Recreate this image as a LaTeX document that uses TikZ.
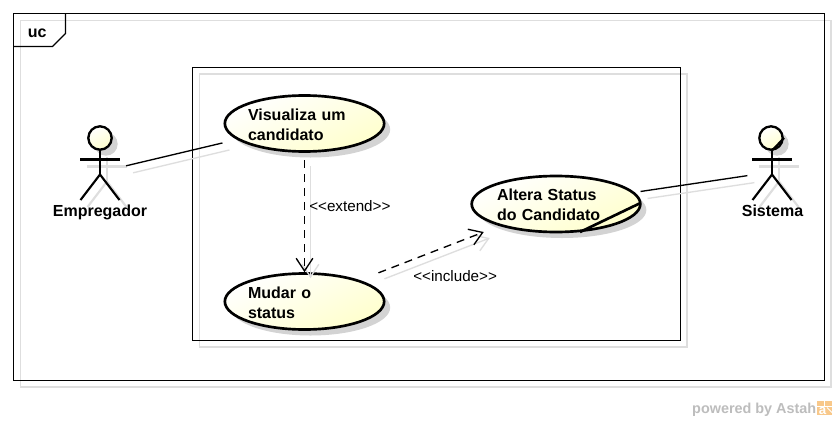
\documentclass[tikz,border=0pt]{standalone}
\usepackage{fontspec}
\setmainfont{Liberation Sans}
\usetikzlibrary{shapes.geometric,shadows,arrows.meta}
\definecolor{usefill}{HTML}{FFFFCC}
\definecolor{shadowgray}{HTML}{DEDEDE}
\definecolor{markgray}{HTML}{BDBDBD}
\definecolor{markorange}{HTML}{F8C88A}
\tikzset{
  px/.style={x=0.75pt,y=-0.75pt},
  framebox/.style={draw=black,line width=1pt},
  frameshadow/.style={draw=shadowgray,line width=1pt},
  usecase/.style={ellipse,draw=black,line width=2pt,inner xsep=-1.5pt,inner ysep=-1.5pt,
    minimum height=42pt,left color=white,right color=usefill,shading angle=25,
    general shadow={shadow xshift=4.5pt,shadow yshift=-4.5pt,fill=shadowgray!95!black},
    font=\bfseries\fontsize{12}{15}\selectfont,align=left,text height=10.3pt},
  smalluse/.style={usecase,minimum width=119.5pt,text width=84.75pt},
  biguse/.style={usecase,minimum width=126.5pt,text width=88.5pt},
  actorbox/.style={rectangle,inner sep=0pt,minimum width=30pt,minimum height=69pt},
  actorlabel/.style={anchor=base,inner sep=0pt,font=\bfseries\fontsize{12}{14.25}\selectfont},
  stereo/.style={anchor=base west,inner sep=0pt,font=\fontsize{11.4}{13}\selectfont},
  stick/.style={draw=black,line width=1.6pt},
  stickshadow/.style={draw=shadowgray,line width=1.6pt},
  head/.style={circle,draw=black,line width=1.75pt,inner sep=0pt,minimum size=17.5pt,
    left color=white,right color=usefill,shading angle=25,
    general shadow={shadow xshift=4.5pt,shadow yshift=-4.5pt,fill=shadowgray!95!black}},
  assoc/.style={draw=black,line width=1pt},
  assocshadow/.style={draw=shadowgray,line width=1pt,transform canvas={xshift=5.25pt,yshift=-5.25pt}},
  dep/.style={draw=black,line width=1pt,dash pattern=on 6pt off 4.5pt},
  depshadow/.style={draw=shadowgray,line width=1pt,transform canvas={xshift=4.5pt,yshift=-4.5pt}},
  openhead/.style={-{Straight Barb[length=9.5pt,width=12.5pt,line width=1pt]}},
}
\newcommand{\stickfigure}[1]{%
  \draw[#1] (0,150) -- (0,174.5);
  \draw[#1] (-20,159.5) -- (20,159.5);
  \draw[#1] (-19.5,200) -- (0,174.5) -- (19.5,200);
}
\begin{document}
\begin{tikzpicture}[px]
\useasboundingbox (0,0) rectangle (837,421);
\fill[white] (0,0) rectangle (837,421);
% frames
\draw[frameshadow] (20.5,20.5) rectangle (831,387);
\draw[frameshadow] (199.5,74) rectangle (687,347);
\draw[framebox] (13.5,13.5) rectangle (824.5,380.5);
\draw[framebox] (192.5,67.5) rectangle (680.5,340.5);
\draw[framebox] (13.5,46.5) -- (52.5,46.5) -- (65.5,33.5) -- (65.5,13.5);
\node[anchor=base west,inner sep=0pt,font=\bfseries\fontsize{12}{14}\selectfont] (frametag) at (27.5,37) {uc};
% use cases
\node[smalluse] (vis) at (304.5,123.5) {Visualiza um\\candidato};
\node[smalluse] (mud) at (304.5,301.5) {Mudar o\\status};
\node[biguse] (alt) at (556,204) {Altera Status\\do Candidato};
\draw[line width=2pt] (640.5,203) -- (580,232);
% actors
\begin{scope}[shift={(107,7)}]\stickfigure{stickshadow}\end{scope}
\begin{scope}[shift={(779,7)}]\stickfigure{stickshadow}\end{scope}
\node[head] (emphead) at (100,138) {};
\node[head] (syshead) at (771,138) {};
\begin{scope}[shift={(100,0)}]\stickfigure{stick}\end{scope}
\begin{scope}[shift={(772,0)}]\stickfigure{stick}\end{scope}
\draw[line width=1.6pt] (772.5,150) -- (784,138);
\node[actorbox] (emp) at (100,172) {};
\node[actorbox] (sys) at (772,172) {};
\node[actorlabel] (emplabel) at (100,216) {Empregador};
\node[actorlabel] (syslabel) at (772.5,216) {Sistema};
% connector shadows
\draw[assocshadow,shorten <=4.5pt,shorten >=11pt] (emp) -- (vis);
\draw[assocshadow,shorten <=4.5pt,shorten >=3.3pt] (alt) -- (sys);
\draw[depshadow,openhead,shorten <=5.5pt] (vis.south) -- (mud.north);
\draw[depshadow,openhead,shorten <=15pt,shorten >=12.5pt] (mud) -- (alt);
% connectors
\draw[assoc,shorten <=4.5pt,shorten >=11pt] (emp) -- (vis);
\draw[assoc,shorten <=4.5pt,shorten >=3.3pt] (alt) -- (sys);
\draw[dep,openhead,shorten <=5.5pt] (vis.south) -- (mud.north);
\draw[dep,openhead,shorten <=15pt,shorten >=12.5pt] (mud) -- (alt);
% labels
\node[stereo] (extlabel) at (309,211) {<{}<extend>{}>};
\node[stereo] (inclabel) at (413,281) {<{}<include>{}>};
% mark
\node[anchor=base east,inner sep=0pt,text=markgray,font=\bfseries\fontsize{10.8}{13}\selectfont] (mark) at (816.5,413) {powered by Astah};
\fill[markorange] (817,401) rectangle (832,415);
\draw[white,line width=0.5pt] (824.5,401) -- (824.5,406) (817,406.5) -- (832,406.5);
\node[anchor=base,inner sep=0pt,text=white,font=\bfseries\fontsize{10}{11}\selectfont] (marka) at (822.5,414) {a};
\draw[white,line width=0.75pt] (827,407.5) -- (832,412.5);
\end{tikzpicture}
\end{document}
